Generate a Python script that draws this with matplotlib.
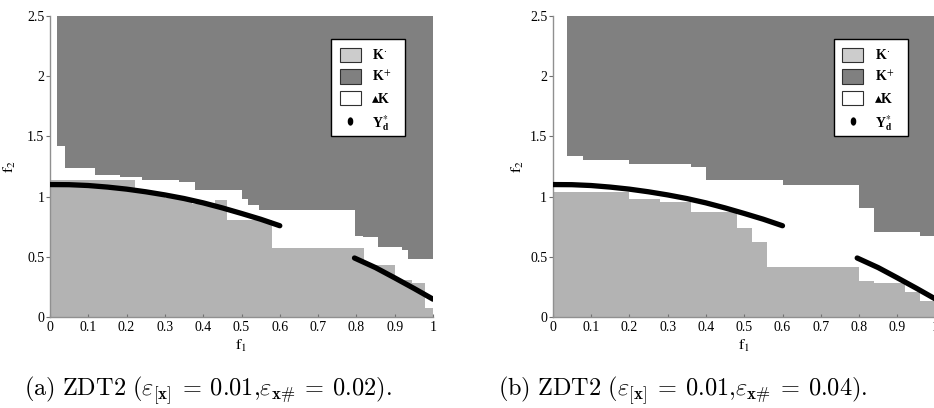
import matplotlib
matplotlib.use("Agg")
import matplotlib.pyplot as plt
from matplotlib.patches import Patch, Rectangle
from matplotlib.lines import Line2D
from matplotlib.markers import MarkerStyle
from matplotlib.transforms import Affine2D

# ---------------- data ----------------
# Pareto-front approximation Y_d* (two segments, same in both panels)
front1_x = [0.0, 0.05, 0.1, 0.15, 0.2, 0.25, 0.3, 0.35, 0.4, 0.45, 0.5, 0.55, 0.6]
front1_y = [1.10, 1.099, 1.092, 1.079, 1.062, 1.040, 1.014, 0.984, 0.948, 0.906, 0.860, 0.812, 0.758]
front2_x = [0.795, 0.85, 0.9, 0.95, 1.0]
front2_y = [0.49, 0.41, 0.325, 0.238, 0.148]

# panel (a): step boundaries
a_dark_edges = [0.019, 0.039, 0.117, 0.183, 0.239, 0.338, 0.379, 0.50, 0.518, 0.545, 0.797, 0.818, 0.857, 0.918, 0.934, 1.0]
a_dark_levels = [1.42, 1.24, 1.183, 1.164, 1.135, 1.118, 1.052, 0.977, 0.93, 0.889, 0.675, 0.662, 0.58, 0.556, 0.48]
a_light_edges = [0.0, 0.222, 0.30, 0.37, 0.43, 0.462, 0.579, 0.819, 0.90, 0.945, 0.98, 1.0]
a_light_levels = [1.14, 1.03, 0.99, 0.94, 0.97, 0.805, 0.575, 0.43, 0.31, 0.28, 0.075]

# panel (b): step boundaries
b_dark_edges = [0.038, 0.078, 0.2, 0.36, 0.4, 0.6, 0.8, 0.84, 0.958, 1.0]
b_dark_levels = [1.335, 1.308, 1.27, 1.245, 1.135, 1.096, 0.903, 0.708, 0.672]
b_light_edges = [0.0, 0.2, 0.28, 0.36, 0.48, 0.52, 0.56, 0.8, 0.84, 0.92, 0.96, 1.0]
b_light_levels = [1.037, 0.978, 0.957, 0.874, 0.736, 0.625, 0.412, 0.301, 0.285, 0.206, 0.134]

x_ticks = [0, 0.1, 0.2, 0.3, 0.4, 0.5, 0.6, 0.7, 0.8, 0.9, 1]
x_ticklabels = ["0", "0.1", "0.2", "0.3", "0.4", "0.5", "0.6", "0.7", "0.8", "0.9", "1"]
y_ticks = [0, 0.5, 1, 1.5, 2, 2.5]
y_ticklabels = ["0", "0.5", "1", "1.5", "2", "2.5"]

captions = [r"$\mathrm{(a)\ ZDT2\ (}\varepsilon_{[\mathbf{x}]} \:=\: 0.01\mathrm{,}\varepsilon_{\mathbf{x}\#} \:=\: 0.02\mathrm{).}$",
            r"$\mathrm{(b)\ ZDT2\ (}\varepsilon_{[\mathbf{x}]} \:=\: 0.01\mathrm{,}\varepsilon_{\mathbf{x}\#} \:=\: 0.04\mathrm{).}$"]

legend_labels = ["K$^{\\cdot}$", "K$^{+}$", "\u25B4K", "Y$_{\\mathbf{d}}^{*}$"]

# ---------------- style ----------------
plt.rcParams["font.family"] = ["Liberation Serif", "DejaVu Sans"]
plt.rcParams["mathtext.fontset"] = "stix"

DARK = "#808080"
LIGHT = "#b3b3b3"
LIGHT_LEG = "#cccccc"
W, H = 934, 408

fig = plt.figure(figsize=(W / 100, H / 100), dpi=100)

def make_panel(left_px, ylabel_px, dark_edges, dark_levels, light_edges, light_levels):
    ax = fig.add_axes([left_px / W, (H - 317) / H, 383 / W, 301 / H])
    ax.fill_between(dark_edges, dark_levels + [dark_levels[-1]], 2.5,
                    step="post", color=DARK, lw=0, zorder=1)
    ax.fill_between(light_edges, 0, light_levels + [light_levels[-1]],
                    step="post", color=LIGHT, lw=0, zorder=1)
    ax.plot(front1_x, front1_y, color="black", lw=3.8, solid_capstyle="round", zorder=3)
    ax.plot(front2_x, front2_y, color="black", lw=3.8, solid_capstyle="round", zorder=3)
    ax.set_xlim(0, 1)
    ax.set_ylim(0, 2.5)
    ax.set_xticks(x_ticks)
    ax.set_xticklabels(x_ticklabels)
    ax.set_yticks(y_ticks)
    ax.set_yticklabels(y_ticklabels)
    ax.tick_params(axis="x", direction="in", length=2.5, pad=3, labelsize=10, color="#707070")
    ax.tick_params(axis="y", direction="out", length=3, pad=1, labelsize=10, color="#707070")
    for s in ("top", "right"):
        ax.spines[s].set_visible(False)
    for s in ("left", "bottom"):
        ax.spines[s].set_color("#909090")
        ax.spines[s].set_linewidth(1.0)
    ax.set_xlabel(r"$\mathrm{f}_1$", fontsize=11.5, labelpad=3)
    ax.set_ylabel(r"$\mathrm{f}_2$", fontsize=11.5)
    ax.yaxis.set_label_coords((ylabel_px - left_px) / 383, (317 - 167) / 301)

    # legend box
    x0 = (331 - 50) / 383
    x1 = (405 - 50) / 383
    y0 = (317 - 136) / 301
    y1 = (317 - 39) / 301
    ax.add_patch(Rectangle((x0, y0), x1 - x0, y1 - y0, transform=ax.transAxes,
                           facecolor="white", edgecolor="black", lw=1.0, zorder=5,
                           clip_on=False))
    dot = MarkerStyle("o", transform=Affine2D().scale(0.6, 1.0))
    handles = [Patch(facecolor=LIGHT_LEG, edgecolor="#303030", lw=0.8),
               Patch(facecolor=DARK, edgecolor="#303030", lw=0.8),
               Patch(facecolor="white", edgecolor="#303030", lw=0.8),
               Line2D([], [], marker=dot, color="black", ls="none", ms=5)]
    leg = ax.legend(handles, legend_labels, loc="upper left",
                    bbox_to_anchor=(x0 + 0.012, y1 - 0.015), frameon=False,
                    handlelength=1.5, handleheight=1.2, labelspacing=0.5,
                    handletextpad=0.85, borderpad=0.3, borderaxespad=0,
                    prop={"size": 10, "weight": "bold"})
    leg.set_zorder(6)
    return ax

make_panel(50, 18, a_dark_edges, a_dark_levels, a_light_edges, a_light_levels)
make_panel(552.7, 526, b_dark_edges, b_dark_levels, b_light_edges, b_light_levels)

fig.text(24 / W, (H - 396) / H, captions[0], fontsize=17.5, ha="left", va="baseline",
         math_fontfamily="cm")
fig.text(498 / W, (H - 396) / H, captions[1], fontsize=17.5, ha="left", va="baseline",
         math_fontfamily="cm")

fig.savefig("out.png", dpi=100)
